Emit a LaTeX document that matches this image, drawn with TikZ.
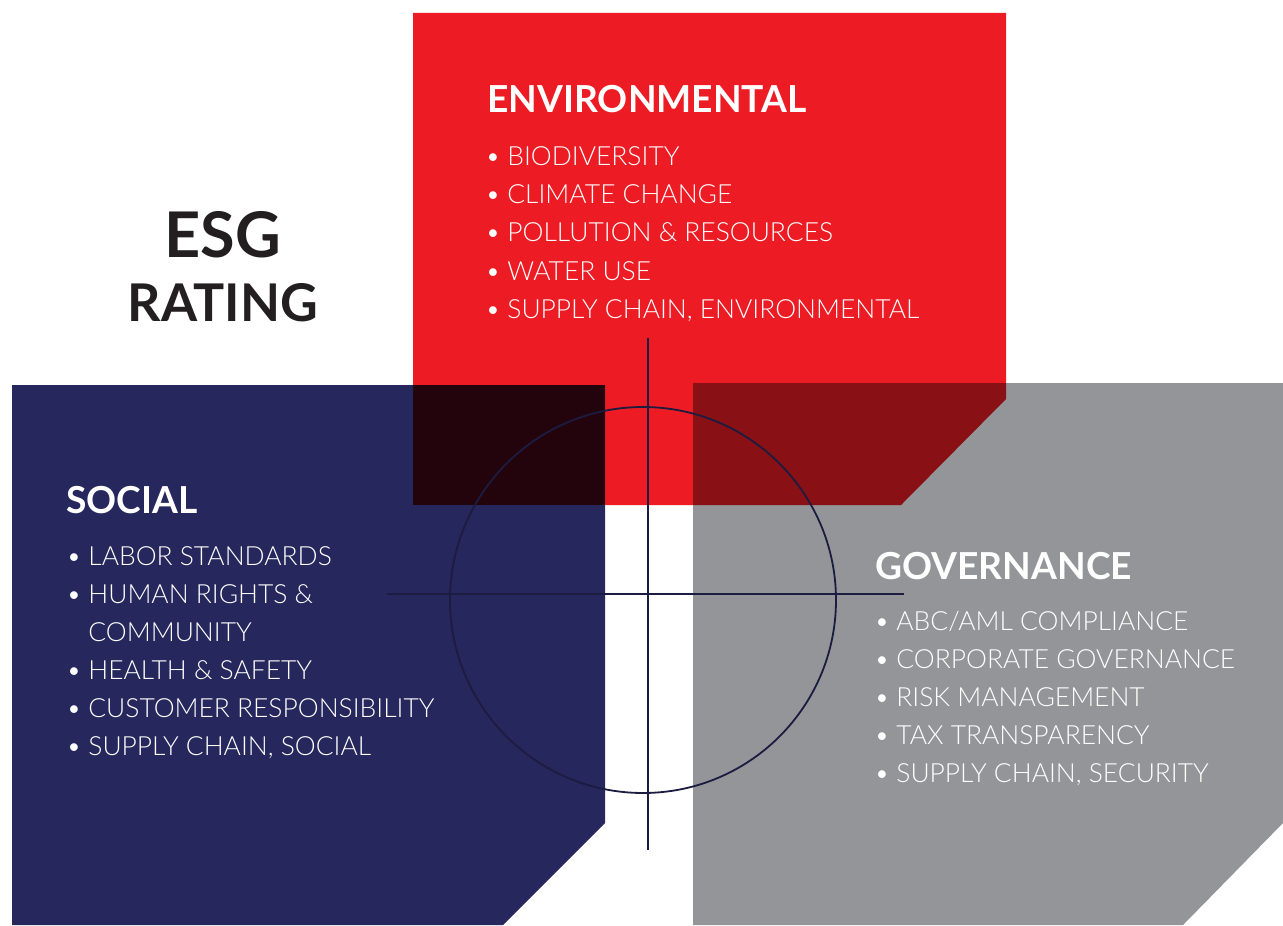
\documentclass[tikz,border=0pt]{standalone}
\usepackage{fontspec}
\setmainfont{Lato}
\IfFontExistsTF{Lato Light}{\newfontfamily\lightfont{Lato Light}}{\newfontfamily\lightfont{Lato}}
\usetikzlibrary{positioning}

\definecolor{esgred}{HTML}{ED1C24}
\definecolor{esgnavy}{HTML}{26275C}
\definecolor{esggray}{HTML}{939598}
\definecolor{esgdark}{HTML}{23040D}
\definecolor{esgwine}{HTML}{891015}
\definecolor{esgink}{HTML}{231F20}
\definecolor{esgline}{HTML}{1B1C3F}

\newlength{\bulletw}\setlength{\bulletw}{10pt}
\newcommand{\itm}[1]{\makebox[\bulletw][l]{\hspace{-1pt}\textbullet}#1}

\tikzset{
    heading/.style={anchor=base west, inner sep=0pt, text=white,
                    font=\fontsize{18.6}{20}\selectfont\bfseries},
    item/.style={anchor=base west, inner sep=0pt, text=white,
                 font=\lightfont\fontsize{13.2}{16}\selectfont},
    title/.style={anchor=base, inner sep=0pt, text=esgink, font=\bfseries},
}

\begin{document}
\begin{tikzpicture}[x=0.5pt, y=-0.5pt]
    \useasboundingbox (0,0) rectangle (1283,925);

    % the three panels
    \fill[esgred]  (413,13) -- (1006,13) -- (1006,399) -- (901,505) -- (413,505) -- cycle;
    \fill[esgnavy] (12,385) -- (605,385) -- (605,823) -- (503,925) -- (12,925) -- cycle;
    \fill[esggray] (693,383) -- (1283,383) -- (1283,823) -- (1183,925) -- (693,925) -- cycle;

    % where the panels overlap the red one
    \fill[esgdark] (413,385) rectangle (605,505);
    \fill[esgwine] (693,383) -- (1006,383) -- (1006,399) -- (901,505) -- (693,505) -- cycle;

    % target
    \coordinate (vtop) at (648,338);
    \coordinate (vbot) at (648,850);
    \coordinate (hleft) at (387,594);
    \coordinate (hright) at (904,594);
    \draw[esgline, line width=0.9pt] (643,600) circle[radius=193];
    \draw[esgline, line width=0.9pt] (vtop) -- (vbot);
    \draw[esgline, line width=0.9pt] (hleft) -- (hright);

    % title
    \node[title, font=\fontsize{31.5}{34}\selectfont\bfseries] (esg) at (223,257) {ESG};
    \node[title, font=\fontsize{26}{29}\selectfont\bfseries] (rating) at (223,321) {RATING};

    % environmental
    \node[heading] (env) at (487,113) {ENVIRONMENTAL};
    \foreach \t [count=\i from 0] in {BIODIVERSITY, CLIMATE CHANGE, POLLUTION \& RESOURCES,
            WATER USE, {SUPPLY CHAIN, ENVIRONMENTAL}}
        \node[item] (env-\i) at (487,{166+38*\i}) {\itm{\t}};

    % social
    \node[heading] (soc) at (66,513) {SOCIAL};
    \foreach \t [count=\i from 0] in {\itm{LABOR STANDARDS}, \itm{HUMAN RIGHTS \&},
            \hspace{\bulletw}COMMUNITY, \itm{HEALTH \& SAFETY},
            \itm{CUSTOMER RESPONSIBILITY}, \itm{SUPPLY CHAIN, SOCIAL}}
        \node[item] (soc-\i) at (68,{565+38*\i}) {\t};

    % governance
    \node[heading] (gov) at (875,579) {GOVERNANCE};
    \foreach \t [count=\i from 0] in {ABC/AML COMPLIANCE, CORPORATE GOVERNANCE,
            RISK MANAGEMENT, TAX TRANSPARENCY, {SUPPLY CHAIN, SECURITY}}
        \node[item] (gov-\i) at (876,{630+38*\i}) {\itm{\t}};
\end{tikzpicture}
\end{document}
